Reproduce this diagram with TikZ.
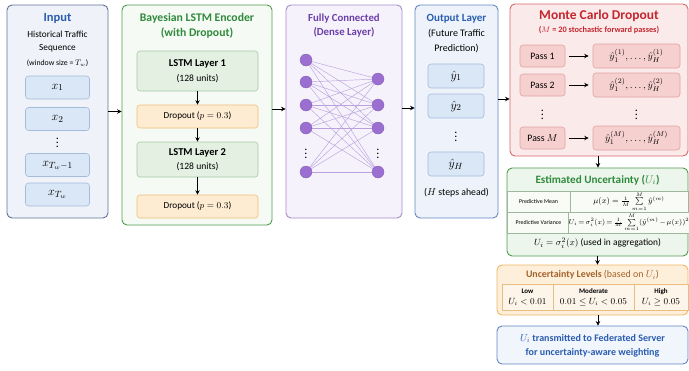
\documentclass[tikz,border=0pt]{standalone}
\usepackage{amsmath,amssymb}
\usepackage{fontspec}
\setmainfont{Carlito}
\usetikzlibrary{arrows.meta}

% palette
\definecolor{inB}{HTML}{5F7396}
\definecolor{inF}{HTML}{EFF3F9}
\definecolor{inT}{HTML}{2A5DB0}
\definecolor{cellB}{HTML}{A3BCDB}
\definecolor{cellF}{HTML}{DAE7F6}
\definecolor{gnB}{HTML}{4E9A4E}
\definecolor{gnF}{HTML}{F6FAF5}
\definecolor{gnT}{HTML}{2F8A3C}
\definecolor{lsB}{HTML}{A6CBA6}
\definecolor{lsF}{HTML}{E3F0E2}
\definecolor{orB}{HTML}{EFBE7A}
\definecolor{orF}{HTML}{FDEBD2}
\definecolor{puB}{HTML}{A58BCB}
\definecolor{puF}{HTML}{F6F2FB}
\definecolor{puT}{HTML}{6B3FA8}
\definecolor{puN}{HTML}{9B6FD2}
\definecolor{puL}{HTML}{B9A2DE}
\definecolor{ouB}{HTML}{6384C2}
\definecolor{ouF}{HTML}{EEF3FB}
\definecolor{rdB}{HTML}{D9676A}
\definecolor{rdF}{HTML}{FBEAEA}
\definecolor{rdT}{HTML}{C4262E}
\definecolor{psB}{HTML}{E1A3A3}
\definecolor{psF}{HTML}{F6CFCF}
\definecolor{euF}{HTML}{EDF6EC}
\definecolor{tbB}{HTML}{9DB89B}
\definecolor{tbF}{HTML}{F8FBF6}
\definecolor{lvB}{HTML}{F0B663}
\definecolor{lvF}{HTML}{FDEFDA}
\definecolor{lvT}{HTML}{A3622A}
\definecolor{lcF}{HTML}{FDF5E9}
\definecolor{lcB}{HTML}{E7BD82}
\definecolor{fnF}{HTML}{F1F5FC}

\tikzset{
  panel/.style={draw, rounded corners=5pt, line width=0.9pt, inner sep=0pt},
  cell/.style={draw, rounded corners=3pt, line width=0.6pt, inner sep=0pt},
  tcell/.style={draw, line width=0.5pt, inner sep=0pt},
  txt/.style={inner sep=0pt, align=center},
  arr/.style={-{Stealth[length=4.5pt,width=4.5pt]}, line width=0.8pt, black},
  neuron/.style={circle, fill=puN, draw=puN!85!black, line width=0.3pt, minimum size=12pt, inner sep=0pt},
  wire/.style={puL, line width=0.45pt},
}

\begin{document}
\begin{tikzpicture}[x=1pt,y=-1pt]
\useasboundingbox (0,0) rectangle (689,370);

% ---------------- Input ----------------
\node[panel, draw=inB, fill=inF, minimum width=101pt, minimum height=213pt] (inp) at (57.5,111.5) {};
\node[txt, text=inT, font=\fontsize{12.5}{14}\selectfont\bfseries] (inT) at (57.5,18) {Input};
\node[txt, font=\fontsize{9.3}{13}\selectfont] (inS) at (57.5,41.5) {Historical Traffic\\Sequence};
\node[txt, font=\fontsize{7.8}{9}\selectfont] (inW) at (57.5,63) {(window size = $T_w$)};
\foreach \n/\y/\t in {x1/87.5/{x_1}, x2/119/{x_2}, xa/165/{x_{T_w-1}}, xb/194.5/{x_{T_w}}}
  \node[cell, draw=cellB, fill=cellF, minimum width=64pt, minimum height=23pt, font=\fontsize{13}{14}\selectfont] (\n) at (57.5,\y) {$\t$};
\node[txt, font=\fontsize{12}{13}\selectfont] (xd) at (57.5,140) {$\vdots$};

% ---------------- Bayesian LSTM encoder ----------------
\node[panel, draw=gnB, fill=gnF, minimum width=150pt, minimum height=220pt] (bay) at (197,115) {};
\node[txt, text=gnT, font=\fontsize{11.7}{15}\selectfont\bfseries] (bayT) at (197,25.5) {Bayesian LSTM Encoder\\(with Dropout)};
\node[cell, draw=lsB, fill=lsF, minimum width=121pt, minimum height=40pt, align=center, font=\fontsize{9.6}{15}\selectfont] (ls1) at (197.5,71) {\textbf{\fontsize{10.5}{15}\selectfont LSTM Layer 1}\\(128 units)};
\node[cell, draw=orB, fill=orF, minimum width=121pt, minimum height=23pt, font=\fontsize{9.2}{10}\selectfont] (dr1) at (197.5,116.5) {Dropout ($p = 0.3$)};
\node[cell, draw=lsB, fill=lsF, minimum width=121pt, minimum height=35pt, align=center, font=\fontsize{9.6}{14}\selectfont] (ls2) at (197.5,159.5) {\textbf{\fontsize{10.5}{14}\selectfont LSTM Layer 2}\\(128 units)};
\node[cell, draw=orB, fill=orF, minimum width=121pt, minimum height=23pt, font=\fontsize{9.2}{10}\selectfont] (dr2) at (197.5,206.5) {Dropout ($p = 0.3$)};
\draw[arr] (ls1) -- (dr1);
\draw[arr] (dr1) -- (ls2);
\draw[arr] (ls2) -- (dr2);

% ---------------- Dense layer ----------------
\node[panel, draw=puB, fill=puF, minimum width=116pt, minimum height=213pt] (fc) at (344,111.5) {};
\node[txt, text=puT, font=\fontsize{10.8}{14}\selectfont\bfseries] (fcT) at (344,26) {Fully Connected\\(Dense Layer)};
\foreach \n/\y in {L1/60, L2/82, L3/105, L4/128, L5/172}
  \coordinate (\n) at (306,\y);
\foreach \n/\y in {R1/79, R2/105, R3/128, R4/172}
  \coordinate (\n) at (378,\y);
\foreach \a in {L1,L2,L3,L4,L5}
  \foreach \b in {R1,R2,R3,R4}
    \draw[wire] (\a) -- (\b);
\foreach \n in {L1,L2,L3,L4,L5,R1,R2,R3,R4}
  \node[neuron] (n\n) at (\n) {};
\node[txt, font=\fontsize{12}{13}\selectfont] (ldots) at (306,151) {$\vdots$};
\node[txt, font=\fontsize{12}{13}\selectfont] (rdots) at (378,151) {$\vdots$};

% ---------------- Output layer ----------------
\node[panel, draw=ouB, fill=ouF, minimum width=83pt, minimum height=213pt] (out) at (456.5,111.5) {};
\node[txt, text=inT, font=\fontsize{11}{12}\selectfont\bfseries] (outT) at (456.5,19) {Output Layer};
\node[txt, font=\fontsize{10}{15}\selectfont] (outS) at (456.5,41) {(Future Traffic\\Prediction)};
\foreach \n/\y/\t in {y1/76/{\hat y_1}, y2/106/{\hat y_2}, yH/164/{\hat y_H}}
  \node[cell, draw=cellB, fill=cellF, minimum width=56pt, minimum height=24pt, font=\fontsize{12.5}{13}\selectfont] (\n) at (456,\y) {$\t$};
\node[txt, font=\fontsize{12}{13}\selectfont] (yd) at (456,134) {$\vdots$};
\node[txt, font=\fontsize{9.8}{11}\selectfont] (outH) at (456.5,193) {($H$ steps ahead)};

% ---------------- Monte Carlo dropout ----------------
\node[panel, draw=rdB, fill=rdF, minimum width=178pt, minimum height=152pt] (mc) at (599,80) {};
\node[txt, text=rdT, font=\fontsize{13.5}{15}\selectfont\bfseries] (mcT) at (599,16) {Monte Carlo Dropout};
\node[txt, text=rdT, font=\fontsize{8.3}{10}\selectfont\bfseries] (mcS) at (599,30.5) {($M$ = 20 stochastic forward passes)};
\foreach \n/\y/\p/\r in {p1/56/{Pass 1}/{\hat y_1^{(1)},\dots,\hat y_H^{(1)}},
                         p2/85/{Pass 2}/{\hat y_1^{(2)},\dots,\hat y_H^{(2)}},
                         pM/138/{Pass $M$}/{\hat y_1^{(M)},\dots,\hat y_H^{(M)}}} {
  \node[cell, draw=psB, fill=psF, minimum width=45pt, minimum height=22pt, font=\fontsize{9.8}{11}\selectfont] (\n) at (542.5,\y) {\p};
  \node[cell, draw=psB, fill=psF, minimum width=87pt, minimum height=24pt, font=\fontsize{9.6}{10}\selectfont] (\n r) at (636.5,\y) {$\r$};
  \draw[arr] ([xshift=4pt]\n.east) -- ([xshift=-4pt]\n r.west);
}
\node[txt, font=\fontsize{12}{13}\selectfont] (pd) at (542.5,112) {$\vdots$};
\node[txt, font=\fontsize{12}{13}\selectfont] (prd) at (636.5,112) {$\vdots$};

% ---------------- Estimated uncertainty ----------------
\node[panel, draw=gnB, fill=euF, minimum width=181pt, minimum height=88pt] (est) at (597.5,212) {};
\node[txt, text=gnT, font=\fontsize{11.2}{12}\selectfont\bfseries] (estT) at (597.5,180) {Estimated Uncertainty ($U_i$)};
\node[tcell, draw=tbB, fill=tbF, minimum width=63pt, minimum height=21pt, font=\fontsize{5.9}{6}\selectfont] (pmL) at (538.5,201.5) {Predictive Mean};
\node[tcell, draw=tbB, fill=tbF, minimum width=118pt, minimum height=21pt, font=\fontsize{7.6}{8}\selectfont] (pmR) at (629,201.5)
  {$\mu(x) = \frac{1}{M}\sum\limits_{m=1}^{M} \hat y^{(m)}$};
\node[tcell, draw=tbB, fill=tbF, minimum width=63pt, minimum height=21pt, font=\fontsize{5.9}{6}\selectfont] (pvL) at (538.5,222.5) {Predictive Variance};
\node[tcell, draw=tbB, fill=tbF, minimum width=118pt, minimum height=21pt, font=\fontsize{7.2}{8}\selectfont] (pvR) at (629,222.5)
  {\thickmuskip=2.5mu\medmuskip=2mu$U_i = \sigma_i^2(x) = \frac{1}{M}\sum\limits_{m=1}^{M} (\hat y^{(m)} - \mu(x))^2$};
\node[txt, font=\fontsize{9.4}{10}\selectfont] (estU) at (597.5,243) {$U_i = \sigma_i^2(x)$ (used in aggregation)};

% ---------------- Uncertainty levels ----------------
\node[panel, draw=lvB, fill=lvF, minimum width=191pt, minimum height=50pt] (lev) at (592.5,290) {};
\node[txt, text=lvT, font=\fontsize{9.9}{11}\selectfont] (levT) at (592.5,275) {\textbf{Uncertainty Levels} (based on $U_i$)};
\node[tcell, draw=lcB, fill=lcF, minimum width=51pt, minimum height=26pt, align=center, font=\fontsize{8.6}{11}\selectfont] (lo) at (527.5,297)
  {\textbf{\fontsize{7}{11}\selectfont Low}\\$U_i < 0.01$};
\node[tcell, draw=lcB, fill=lcF, minimum width=81pt, minimum height=26pt, align=center, font=\fontsize{8.6}{11}\selectfont] (md) at (593.5,297)
  {\textbf{\fontsize{7}{11}\selectfont Moderate}\\$0.01 \le U_i < 0.05$};
\node[tcell, draw=lcB, fill=lcF, minimum width=54pt, minimum height=26pt, align=center, font=\fontsize{8.6}{11}\selectfont] (hi) at (661,297)
  {\textbf{\fontsize{7}{11}\selectfont High}\\$U_i \ge 0.05$};

% ---------------- Federated server ----------------
\node[panel, draw=ouB, fill=fnF, minimum width=191pt, minimum height=38pt] (fin) at (592.5,345) {};
\node[txt, text=inT, font=\fontsize{10}{14}\selectfont\bfseries] (finT) at (592.5,345.5)
  {$U_i$ transmitted to Federated Server\\for uncertainty-aware weighting};

% ---------------- Connectors ----------------
\draw[arr] (inp.east) -- (inp.east -| bay.west);
\draw[arr] ([yshift=6pt]bay.east) -- ([yshift=6pt]bay.east -| fc.west);
\draw[arr] ([yshift=3.5pt]fc.east) -- ([yshift=3.5pt]fc.east -| out.west);
\draw[arr] ([yshift=12.5pt]out.east) -- ([yshift=12.5pt]out.east -| mc.west);
\draw[arr] ([xshift=-1pt]mc.south) -- ([xshift=-1pt]mc.south |- est.north);
\draw[arr] (est.south) -- (est.south |- lev.north);
\draw[arr] ([xshift=5.5pt]lev.south) -- ([xshift=5.5pt]fin.north);
\end{tikzpicture}
\end{document}
